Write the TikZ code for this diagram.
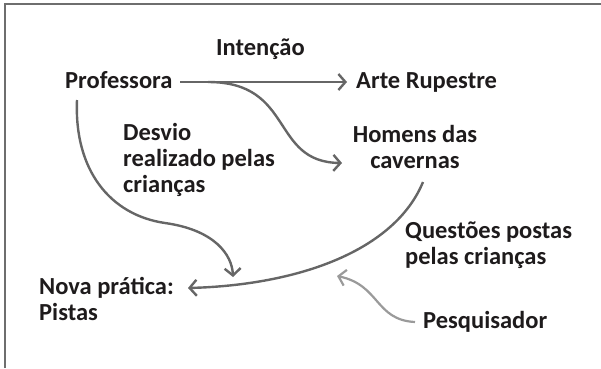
\documentclass[tikz,border=0pt]{standalone}
\usepackage{fontspec}
\setmainfont{Carlito}[BoldFont={Carlito Bold}]
\usetikzlibrary{arrows.meta}
\definecolor{txt}{HTML}{1E1B1C}
\definecolor{arr}{HTML}{666666}
\definecolor{arrlight}{HTML}{9A9A9A}
\definecolor{frame}{HTML}{6E6E6E}
\begin{document}
\begin{tikzpicture}[x=1pt,y=-1pt,
  lbl/.style={inner sep=0pt, text=txt, font=\bfseries\fontsize{24.5}{26}\selectfont, anchor=base west, align=left},
  lblc/.style={lbl, align=center},
  conn/.style={draw=arr, line width=2.4pt, -{Straight Barb[length=7pt,width=16pt]}},
  connlight/.style={draw=arrlight, line width=2.2pt, -{Straight Barb[length=7pt,width=16pt]}}]
\useasboundingbox (0,0) rectangle (601,368);
\draw[frame, line width=2pt] (5,368) -- (5,3.5) -- (601,3.5);

\node[lbl] (int) at (216,55) {Intenção};
\node[lbl] (prof) at (65,88) {Professora};
\node[lbl] (arte) at (356,88) {Arte Rupestre};
\node[lblc, anchor=base] (hom) at (415,168) {Homens das\\cavernas};
\node[lbl] (desv) at (123,192) {Desvio\\realizado pelas\\crianças};
\node[lbl] (nova) at (39,320) {Nova prática:\\Pistas};
\node[lbl] (quest) at (405,264) {Questões postas\\pelas crianças};
\node[lbl] (pesq) at (423,328) {Pesquisador};

\coordinate (profout) at (180,82);
\coordinate (artein) at (347,82);
\coordinate (branch) at (208,82);
\coordinate (homin) at (342,163);
\coordinate (homout) at (423,182);
\coordinate (novain) at (188,288);
\coordinate (novatop) at (233,277);
\coordinate (profdown) at (77,100);
\coordinate (pesqout) at (415,322);
\coordinate (qin) at (337,276);

\draw[conn] (profout) -- (artein);
\draw[conn] (branch) .. controls (295,82) and (270,162) .. (homin);
\draw[conn] (profdown) .. controls (74,170) and (110,215) .. (165,223) .. controls (215,230) and (232,255) .. (novatop);
\draw[conn] (homout) .. controls (395,250) and (300,285) .. (novain);
\draw[connlight] (pesqout) .. controls (375,320) and (380,285) .. (qin);
\end{tikzpicture}
\end{document}
